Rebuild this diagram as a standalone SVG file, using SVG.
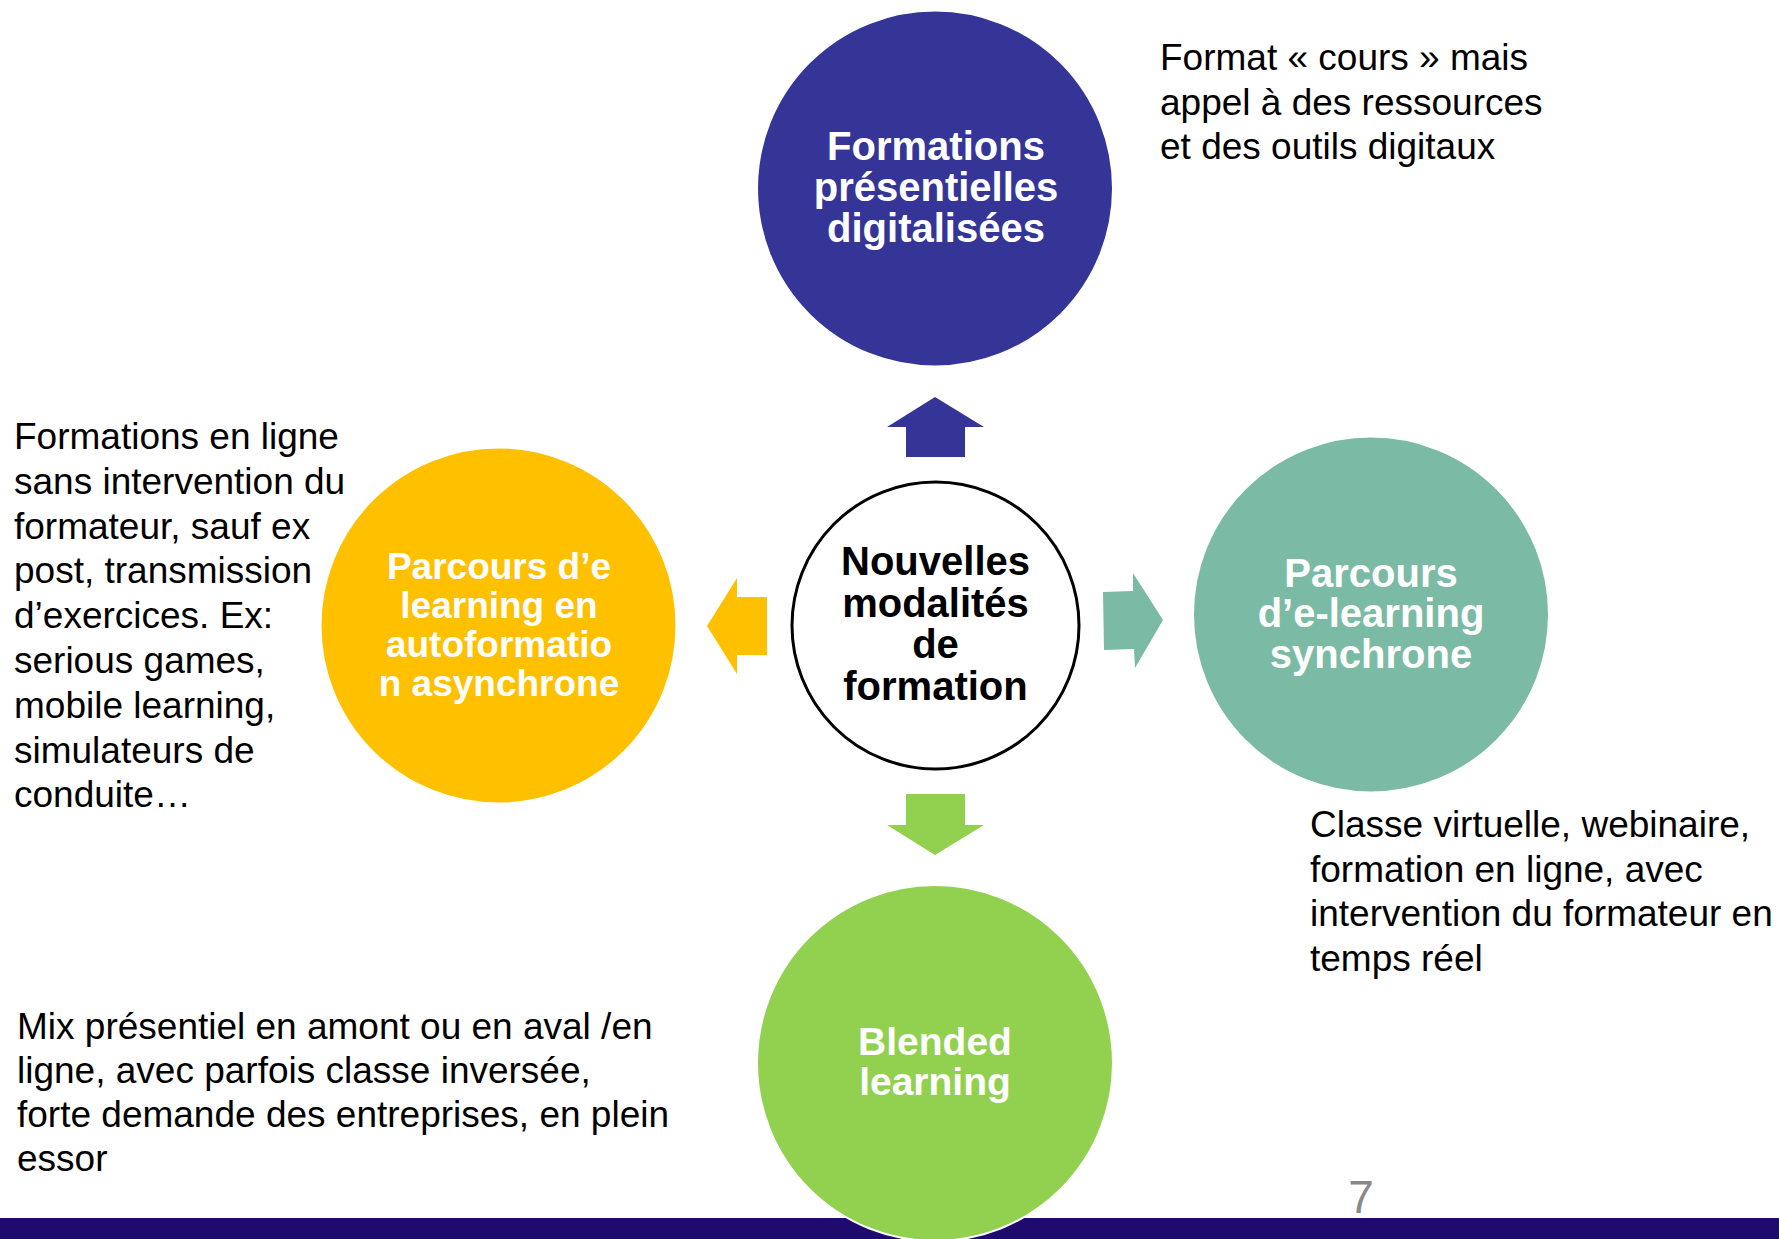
<svg xmlns="http://www.w3.org/2000/svg" width="1779" height="1239" viewBox="0 0 1779 1239">
  <style>
    .node-title { font-family: "Liberation Sans", Arial, sans-serif; font-weight: bold; fill: #ffffff; text-anchor: middle; }
    .hub-title { font-family: "Liberation Sans", Arial, sans-serif; font-weight: bold; fill: #000000; text-anchor: middle; font-size: 40px; }
    .note { font-family: "Liberation Sans", Arial, sans-serif; font-size: 37px; fill: #000000; }
    .disc { stroke: #ffffff; stroke-width: 2; }
  </style>

  <rect x="0" y="0" width="1779" height="1239" fill="#ffffff"/>

  <!-- footer band -->
  <rect x="0" y="1218" width="1779" height="21" fill="#1f0a6e"/>

  <!-- connectors: block arrows pointing out from the hub -->
  <g id="connectors">
    <polygon points="935,397 984,427 965,427 965,457 906,457 906,427 887,427" fill="#353598"/>
    <polygon points="707,626 737,578 737,597 767,597 767,655 737,655 737,674" fill="#ffc000"/>
    <polygon points="1103,592 1133,591 1133,573 1163,620 1135,668 1134,649 1104,650" fill="#7bbba5"/>
    <polygon points="935,855 984,825 965,825 965,794 906,794 906,825 887,825" fill="#92d050"/>
  </g>

  <g id="hub">
    <circle cx="935.5" cy="625.5" r="143.5" fill="#ffffff" stroke="#000000" stroke-width="3"/>
    <text class="hub-title" x="935.5" y="575">Nouvelles</text>
    <text class="hub-title" x="935.5" y="617">modalités</text>
    <text class="hub-title" x="935.5" y="658">de</text>
    <text class="hub-title" x="935.5" y="700">formation</text>
  </g>

  <g id="node-presentiel">
    <circle class="disc" cx="935" cy="188.5" r="178" fill="#353598"/>
    <text class="node-title" font-size="40" x="936" y="160">Formations</text>
    <text class="node-title" font-size="40" x="936" y="201">présentielles</text>
    <text class="node-title" font-size="40" x="936" y="242">digitalisées</text>
  </g>

  <g id="node-asynchrone">
    <circle class="disc" cx="498.5" cy="625.5" r="178" fill="#ffc000"/>
    <text class="node-title" font-size="37" x="499" y="579">Parcours d’e</text>
    <text class="node-title" font-size="37" x="499" y="618">learning en</text>
    <text class="node-title" font-size="37" x="499" y="657">autoformatio</text>
    <text class="node-title" font-size="37" x="499" y="696">n asynchrone</text>
  </g>

  <g id="node-synchrone">
    <circle class="disc" cx="1371" cy="614.5" r="178" fill="#7bbba5"/>
    <text class="node-title" font-size="40" x="1371" y="587">Parcours</text>
    <text class="node-title" font-size="40" x="1371" y="627">d’e-learning</text>
    <text class="node-title" font-size="40" x="1371" y="668">synchrone</text>
  </g>

  <g id="node-blended">
    <circle class="disc" cx="935" cy="1063" r="178" fill="#92d050"/>
    <text class="node-title" font-size="39" x="935" y="1055">Blended</text>
    <text class="node-title" font-size="39" x="935" y="1095">learning</text>
  </g>

  <!-- descriptive notes -->
  <g id="note-presentiel">
    <text class="note" x="1160" y="70">Format « cours » mais</text>
    <text class="note" x="1160" y="114.5">appel à des ressources</text>
    <text class="note" x="1160" y="159">et des outils digitaux</text>
  </g>

  <g id="note-asynchrone">
    <text class="note" x="14" y="449">Formations en ligne</text>
    <text class="note" x="14" y="493.8">sans intervention du</text>
    <text class="note" x="14" y="538.6">formateur, sauf ex</text>
    <text class="note" x="14" y="583.4">post, transmission</text>
    <text class="note" x="14" y="628.2">d’exercices. Ex:</text>
    <text class="note" x="14" y="673">serious games,</text>
    <text class="note" x="14" y="717.8">mobile learning,</text>
    <text class="note" x="14" y="762.6">simulateurs de</text>
    <text class="note" x="14" y="807.4">conduite…</text>
  </g>

  <g id="note-synchrone">
    <text class="note" x="1310" y="837">Classe virtuelle, webinaire,</text>
    <text class="note" x="1310" y="881.5">formation en ligne, avec</text>
    <text class="note" x="1310" y="926">intervention du formateur en</text>
    <text class="note" x="1310" y="970.5">temps réel</text>
  </g>

  <g id="note-blended">
    <text class="note" x="17" y="1039">Mix présentiel en amont ou en aval /en</text>
    <text class="note" x="17" y="1083">ligne, avec parfois classe inversée,</text>
    <text class="note" x="17" y="1127">forte demande des entreprises, en plein</text>
    <text class="note" x="17" y="1171">essor</text>
  </g>

  <text x="1361" y="1213" font-family="Liberation Sans, Arial, sans-serif" font-size="46" fill="#898989" text-anchor="middle">7</text>
</svg>
